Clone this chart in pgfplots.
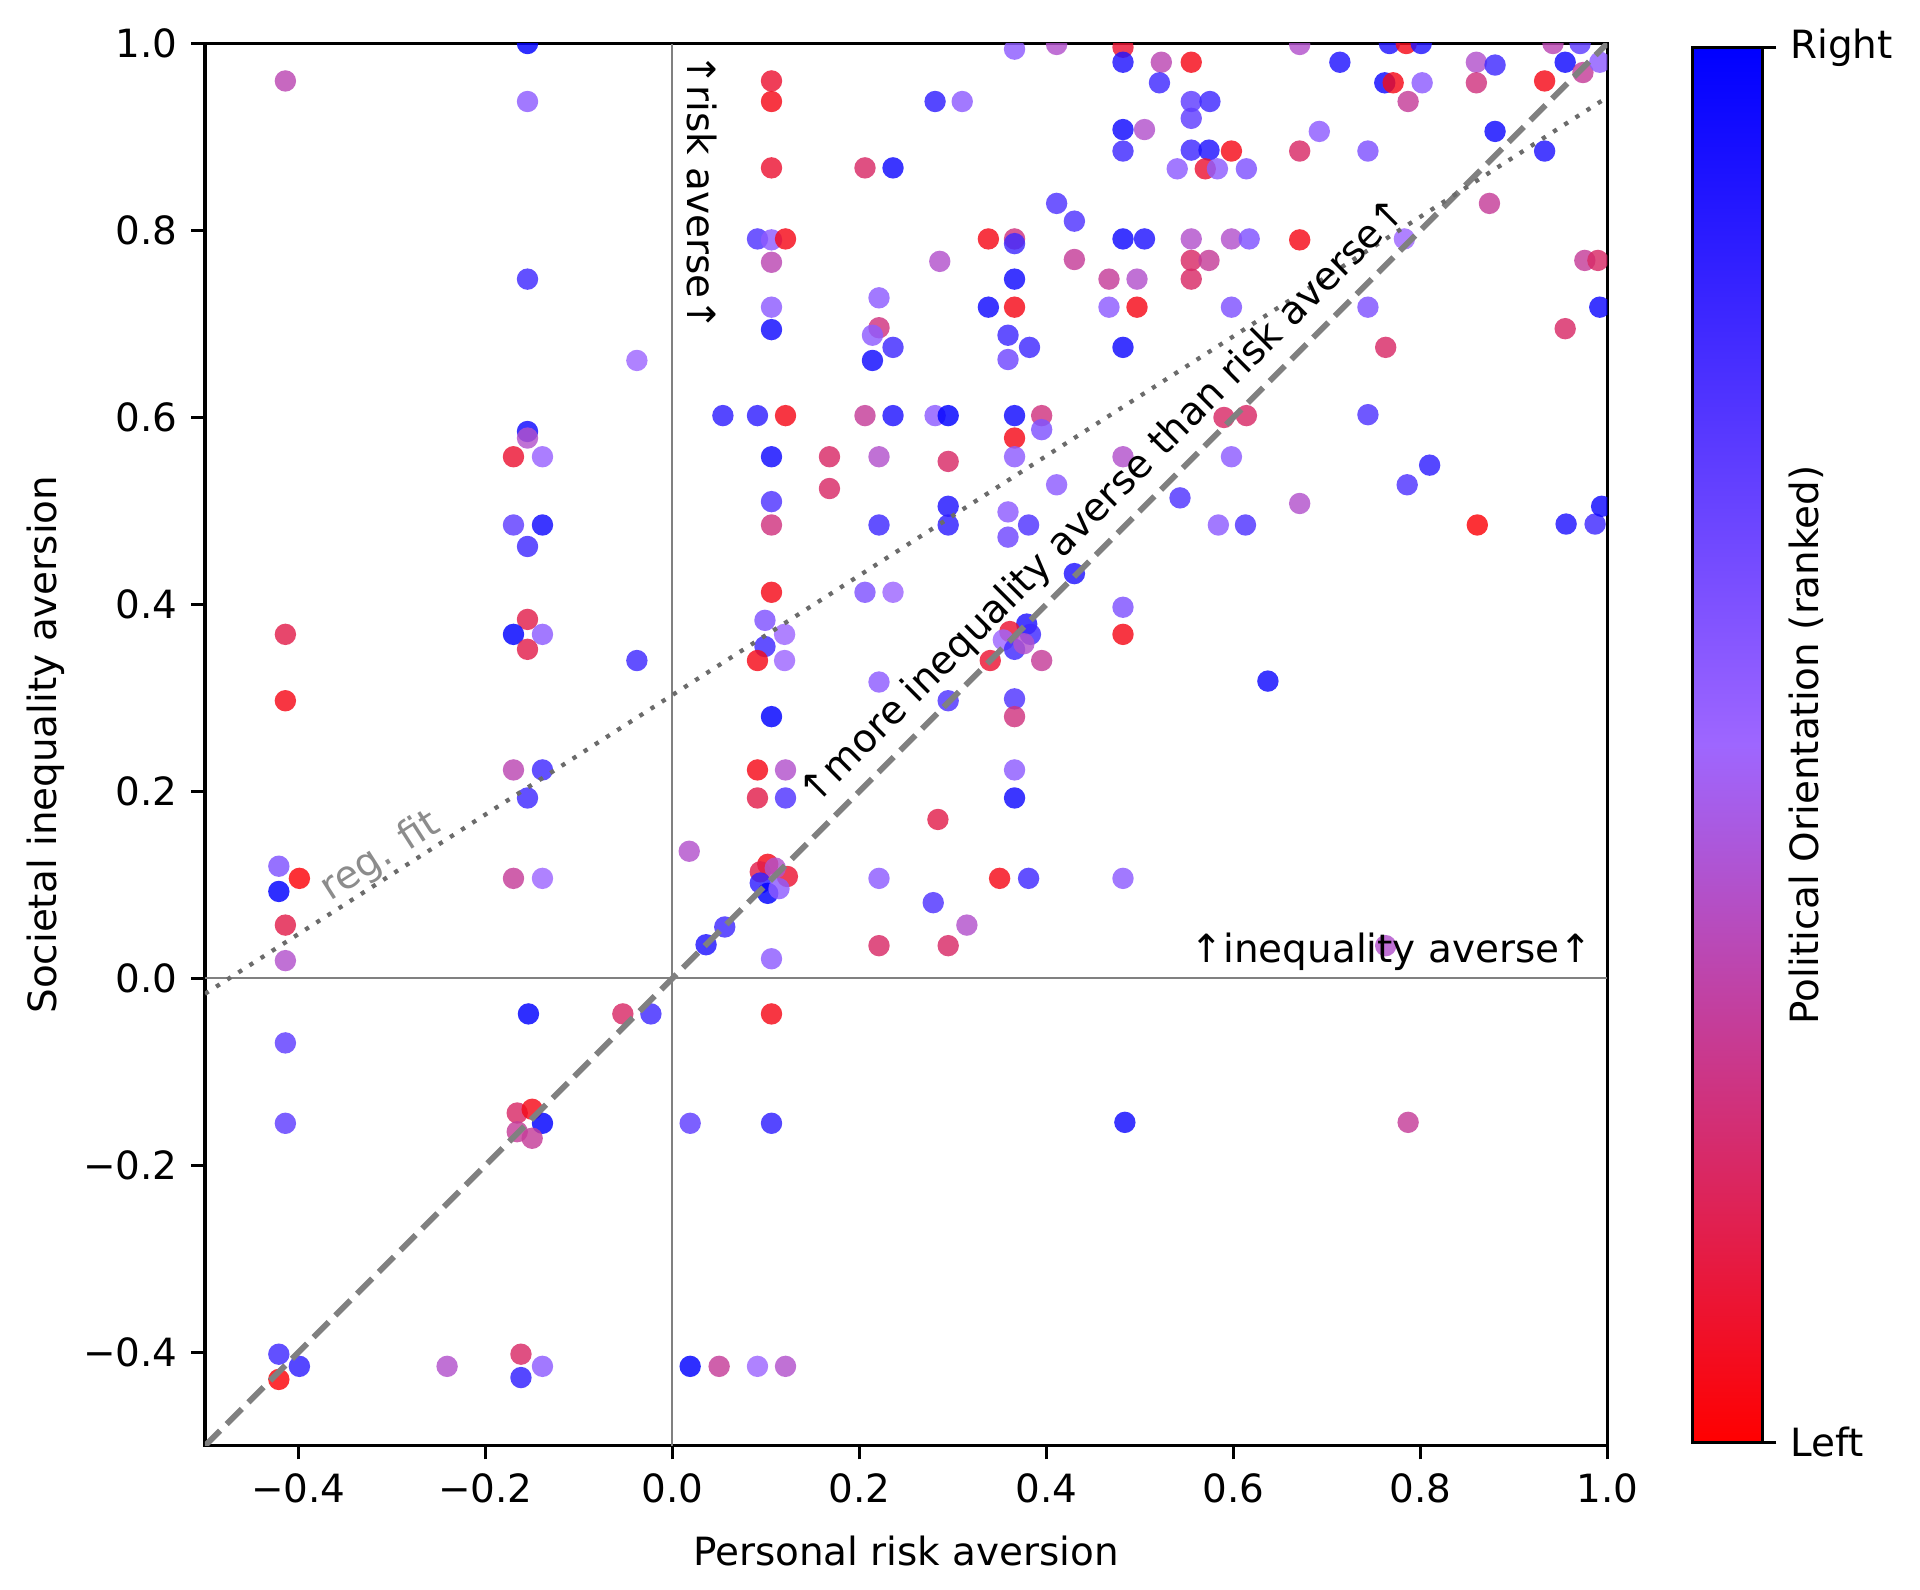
\documentclass[border=0pt]{standalone}
\usepackage{fontspec}
\setmainfont{DejaVu Sans}
\usepackage{pgfplots}
\pgfplotsset{compat=1.18}
\definecolor{zl}{rgb}{0.5,0.5,0.5}
\definecolor{dg}{rgb}{0.5,0.5,0.5}
\definecolor{rg}{rgb}{0.42,0.42,0.42}
\definecolor{rt}{rgb}{0.55,0.55,0.55}
\begin{document}
\begin{tikzpicture}
\path[use as bounding box] (-52.7pt,-37pt) rectangle (440.9pt,371.7pt);
\begin{axis}[
  at={(0,0)}, anchor=south west,
  scale only axis, width=360.5pt, height=360.5pt,
  xmin=-0.5, xmax=1, ymin=-0.5, ymax=1,
  xtick={-0.4,-0.2,0,0.2,0.4,0.6,0.8,1.0},
  xticklabels={−0.4,−0.2,0.0,0.2,0.4,0.6,0.8,1.0},
  ytick={-0.4,-0.2,0,0.2,0.4,0.6,0.8,1.0},
  yticklabels={−0.4,−0.2,0.0,0.2,0.4,0.6,0.8,1.0},
  xtick pos=bottom, ytick pos=left,
  tick align=outside, major tick length=3.5pt,
  tick style={black, line width=0.8pt},
  axis line style={line width=0.8pt},
  every axis x label/.style={at={(axis description cs:0.5,-0.075)}, anchor=center},
  every axis y label/.style={at={(axis description cs:-0.1137,0.5)}, anchor=center, rotate=90},
  xlabel={Personal risk aversion},
  ylabel={Societal inequality aversion},
  clip marker paths=true,
  colormap={polit}{rgb=(1,0,0) rgb=(0.62,0.4,1) rgb=(0,0,1)},
  point meta min=0, point meta max=1,
  colorbar,
  /pgfplots/colorbar/width=18pt,
  colorbar shift/.style={xshift=22pt, yshift=-1pt},
  colorbar style={
    at={(parent axis.north east)}, anchor=north west,
    scale only axis, height=358.6pt,
    ytick={0,1}, yticklabels={Left,Right},
    yticklabel pos=right, ytick pos=right,
    tick align=outside, major tick length=3.5pt,
    tick style={black, line width=0.8pt},
    axis line style={line width=0.8pt},
    every axis y label/.style={at={(axis description cs:1.62,0.5)}, anchor=center, rotate=90},
    ylabel={Political Orientation (ranked)},
  },
]
\addplot[zl, line width=0.5pt] coordinates {(0,-0.5) (0,1)};
\addplot[zl, line width=0.5pt] coordinates {(-0.5,0) (1,0)};
\addplot[scatter, only marks, mark=*, mark size=2.75pt, point meta=explicit,
  scatter/use mapped color={draw=mapped color, fill=mapped color, draw opacity=0, fill opacity=0.82}]
  table[x=x, y=y, meta=c] {
x y c
-0.414 0.960 0.35
-0.414 0.368 0.15
-0.414 0.297 0.05
-0.421 0.120 0.6
-0.399 0.107 0.02
-0.421 0.093 1.0
-0.414 0.057 0.15
-0.414 0.019 0.4
-0.414 -0.069 0.7
-0.414 -0.155 0.7
-0.421 -0.402 0.8
-0.399 -0.415 0.85
-0.421 -0.429 0.02
-0.241 -0.415 0.4
-0.155 1.000 1.0
-0.155 0.938 0.55
-0.155 0.748 0.8
-0.155 0.585 0.95
-0.155 0.578 0.4
-0.170 0.558 0.1
-0.139 0.558 0.52
-0.170 0.485 0.7
-0.139 0.485 0.95
-0.155 0.462 0.8
-0.155 0.384 0.15
-0.170 0.368 1.0
-0.139 0.368 0.55
-0.155 0.352 0.15
-0.170 0.223 0.35
-0.139 0.223 0.8
-0.155 0.193 0.8
-0.170 0.107 0.3
-0.139 0.107 0.5
-0.154 -0.038 1.0
-0.166 -0.144 0.2
-0.150 -0.140 0.05
-0.139 -0.155 1.0
-0.166 -0.164 0.3
-0.150 -0.171 0.3
-0.162 -0.402 0.2
-0.139 -0.415 0.55
-0.162 -0.427 0.85
-0.038 0.661 0.5
-0.038 0.340 0.8
-0.053 -0.038 0.2
-0.023 -0.038 0.8
0.018 0.136 0.4
0.019 -0.155 0.7
0.019 -0.415 1.0
0.050 -0.415 0.3
0.091 -0.415 0.5
0.121 -0.415 0.4
0.036 0.036 0.9
0.056 0.055 0.8
0.106 0.021 0.55
0.106 -0.038 0.05
0.106 -0.155 0.85
0.054 0.602 0.85
0.106 0.960 0.1
0.106 0.938 0.05
0.106 0.867 0.1
0.091 0.791 0.75
0.106 0.790 0.55
0.121 0.791 0.05
0.106 0.766 0.35
0.106 0.718 0.55
0.106 0.694 0.95
0.091 0.602 0.85
0.121 0.602 0.05
0.106 0.558 0.95
0.106 0.510 0.75
0.106 0.485 0.25
0.106 0.413 0.05
0.099 0.383 0.6
0.120 0.368 0.5
0.099 0.355 0.8
0.091 0.340 0.05
0.120 0.340 0.5
0.106 0.280 1.0
0.091 0.223 0.05
0.121 0.223 0.4
0.091 0.193 0.15
0.121 0.193 0.75
0.102 0.122 0.05
0.094 0.114 0.15
0.123 0.109 0.1
0.110 0.118 0.4
0.094 0.102 0.85
0.102 0.091 1.0
0.114 0.096 0.55
0.168 0.558 0.2
0.168 0.524 0.2
0.206 0.867 0.2
0.236 0.867 0.95
0.221 0.728 0.55
0.221 0.696 0.25
0.214 0.688 0.55
0.236 0.675 0.8
0.214 0.661 0.95
0.206 0.602 0.3
0.236 0.602 0.9
0.221 0.558 0.4
0.221 0.485 0.8
0.206 0.413 0.6
0.236 0.413 0.5
0.221 0.317 0.55
0.221 0.107 0.55
0.221 0.035 0.2
0.281 0.938 0.85
0.310 0.938 0.55
0.286 0.767 0.4
0.281 0.602 0.55
0.295 0.602 1.0
0.295 0.553 0.2
0.295 0.505 0.9
0.295 0.485 0.85
0.295 0.297 0.75
0.284 0.170 0.15
0.279 0.081 0.75
0.315 0.057 0.4
0.295 0.035 0.2
0.366 0.994 0.55
0.338 0.791 0.05
0.366 0.791 0.25
0.366 0.786 0.8
0.366 0.748 0.95
0.338 0.718 0.95
0.366 0.718 0.05
0.359 0.688 0.8
0.382 0.675 0.8
0.359 0.662 0.65
0.366 0.602 0.95
0.395 0.602 0.25
0.395 0.587 0.6
0.366 0.578 0.05
0.366 0.558 0.55
0.359 0.499 0.55
0.381 0.485 0.75
0.359 0.472 0.65
0.379 0.379 0.9
0.383 0.368 0.8
0.361 0.371 0.1
0.354 0.362 0.5
0.366 0.352 0.8
0.376 0.358 0.4
0.340 0.340 0.1
0.395 0.340 0.3
0.366 0.299 0.75
0.366 0.280 0.25
0.366 0.223 0.55
0.366 0.193 0.95
0.350 0.107 0.05
0.381 0.107 0.8
0.411 0.999 0.4
0.411 0.829 0.75
0.430 0.810 0.75
0.430 0.769 0.3
0.411 0.528 0.55
0.430 0.433 0.9
0.482 0.996 0.1
0.482 0.980 0.9
0.482 0.908 0.95
0.482 0.885 0.8
0.505 0.908 0.4
0.482 0.791 0.95
0.505 0.791 0.9
0.467 0.748 0.3
0.497 0.748 0.4
0.467 0.718 0.55
0.497 0.718 0.05
0.482 0.675 0.95
0.482 0.558 0.4
0.482 0.397 0.6
0.482 0.368 0.05
0.482 0.107 0.55
0.484 -0.154 0.95
0.523 0.980 0.35
0.555 0.980 0.05
0.521 0.958 0.8
0.555 0.938 0.7
0.575 0.938 0.8
0.555 0.920 0.7
0.555 0.886 0.8
0.574 0.886 0.9
0.598 0.885 0.05
0.540 0.866 0.55
0.570 0.866 0.1
0.583 0.866 0.55
0.614 0.866 0.6
0.555 0.791 0.4
0.598 0.791 0.4
0.617 0.791 0.6
0.555 0.768 0.2
0.574 0.768 0.3
0.555 0.748 0.2
0.598 0.718 0.6
0.590 0.600 0.2
0.614 0.602 0.2
0.598 0.558 0.55
0.543 0.514 0.75
0.584 0.485 0.55
0.613 0.485 0.75
0.637 0.318 0.95
0.671 0.999 0.4
0.714 0.980 0.9
0.692 0.906 0.55
0.671 0.885 0.2
0.671 0.790 0.05
0.671 0.508 0.4
0.767 1.0 0.9
0.785 1.0 0.05
0.801 1.0 0.9
0.762 0.958 0.95
0.771 0.958 0.05
0.802 0.958 0.55
0.787 0.938 0.3
0.744 0.885 0.6
0.783 0.791 0.5
0.744 0.718 0.6
0.763 0.675 0.2
0.744 0.603 0.75
0.810 0.549 0.85
0.786 0.528 0.75
0.763 0.035 0.4
0.787 -0.154 0.3
0.942 1.0 0.35
0.971 1.0 0.7
0.860 0.980 0.4
0.880 0.977 0.8
0.955 0.980 0.95
0.974 0.969 0.3
0.992 0.980 0.55
0.860 0.958 0.25
0.933 0.960 0.05
0.880 0.906 0.95
0.933 0.885 0.9
0.874 0.829 0.3
0.976 0.768 0.3
0.990 0.768 0.2
0.992 0.718 0.95
0.955 0.695 0.2
0.861 0.485 0.02
0.956 0.486 0.9
0.987 0.486 0.8
0.994 0.505 0.95
};
\addplot[dg, line width=1.5pt, dash pattern=on 5.5pt off 2.4pt] coordinates {(-0.5,-0.5) (1,1)};
\addplot[rg, line width=1.1pt, dash pattern=on 1.1pt off 2.3pt] coordinates {(-0.5,-0.0165) (1,0.9425)};
\node[rotate=45, anchor=center] at (axis cs:0.462,0.509) {↑more inequality averse than risk averse↑};
\node[rotate=-90, anchor=center] at (axis cs:0.032,0.841) {↑risk averse↑};
\node[anchor=base] at (axis cs:0.769,0.017) {↑inequality averse↑};
\node[rotate=32.6, anchor=center, text=rt] at (axis cs:-0.312,0.130) {reg. fit};
\end{axis}
\end{tikzpicture}
\end{document}
